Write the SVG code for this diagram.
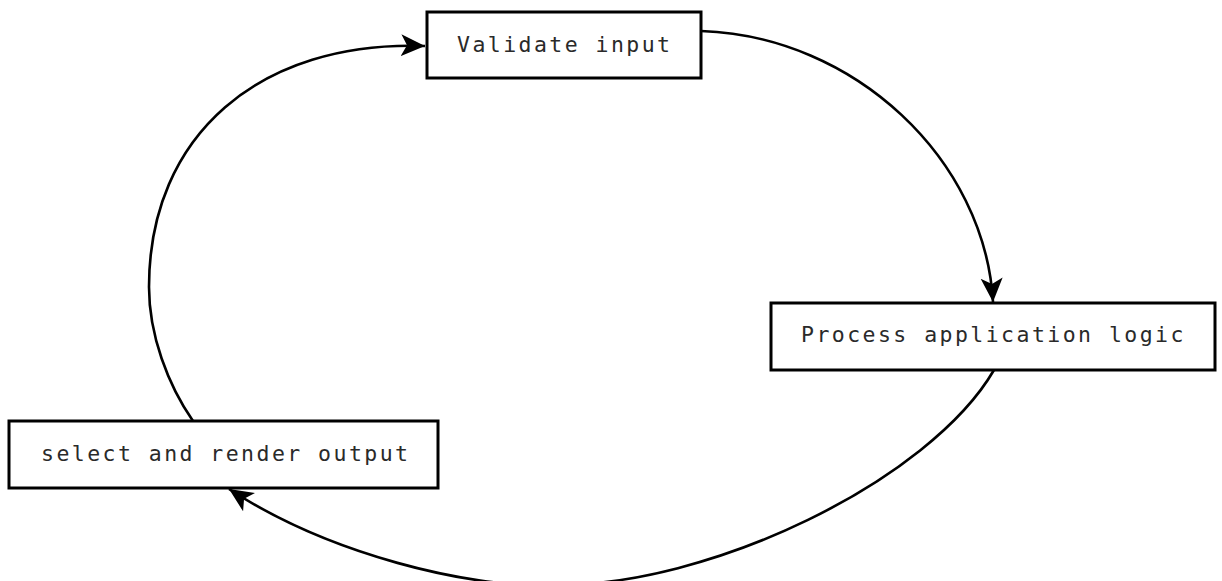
<svg xmlns="http://www.w3.org/2000/svg" width="1222" height="581" viewBox="0 0 1222 581">
<style>
.box{fill:#fff;stroke:#000;stroke-width:3}
.lbl{font-family:"DejaVu Sans Mono","Liberation Mono",monospace;font-size:21.5px;letter-spacing:2.45px;fill:#2a2a2a}
.edge{fill:none;stroke:#000;stroke-width:2.6}
</style>
<defs>
<marker id="arr" markerUnits="userSpaceOnUse" markerWidth="26" markerHeight="24" viewBox="0 0 26 24" refX="24" refY="12" orient="auto">
<path d="M0,1 L24,12 L0,23 L6,12 z" fill="#000"/>
</marker>
</defs>
<rect width="1222" height="581" fill="#fff"/>
<g id="connectors">
<path class="edge" d="M701,31 C855,36 985,160 993,302" marker-end="url(#arr)"/>
<path class="edge" d="M994,370 C930,480 710,588 550,585 C470,588 330,555 229,489" marker-end="url(#arr)"/>
<path class="edge" d="M193,421 C168,385 149,335 149,287 C149,135 260,40 425,46" marker-end="url(#arr)"/>
</g>
<g id="node-validate">
<rect class="box" x="427" y="12" width="274" height="66"/>
<text class="lbl" x="457" y="52">Validate input</text>
</g>
<g id="node-process">
<rect class="box" x="771" y="303" width="444" height="67"/>
<text class="lbl" x="801" y="342">Process application logic</text>
</g>
<g id="node-select">
<rect class="box" x="9" y="421" width="429" height="67"/>
<text class="lbl" x="41" y="461">select and render output</text>
</g>
</svg>
